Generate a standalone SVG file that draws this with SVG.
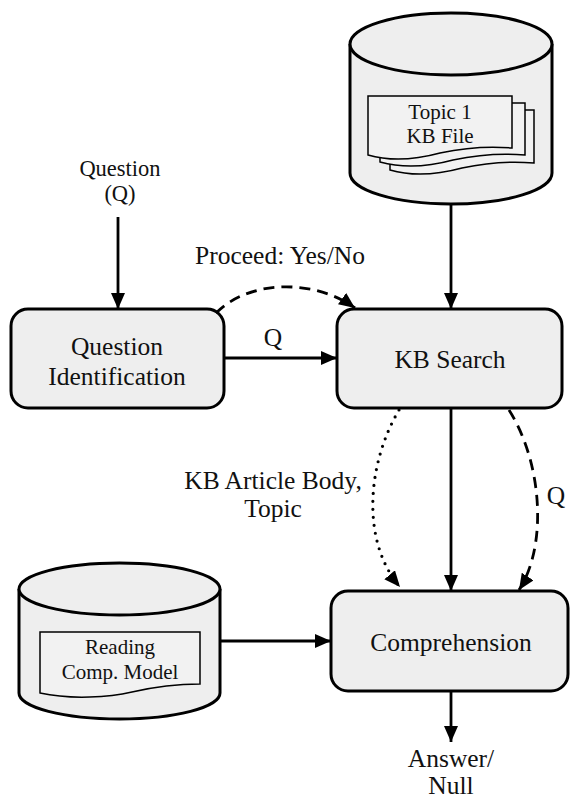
<svg xmlns="http://www.w3.org/2000/svg" width="571" height="800" viewBox="0 0 571 800">
<style>
  .box{fill:#eeeeee;stroke:#000;stroke-width:3}
  .cyl{fill:#eeeeee;stroke:#000;stroke-width:3}
  .doc{fill:#f2f2f2;stroke:#000;stroke-width:1.5}
  .t{font-family:"Liberation Serif","Times New Roman",serif;font-size:25.5px;fill:#111;text-anchor:middle}
  .ts{font-family:"Liberation Serif","Times New Roman",serif;font-size:21px;fill:#111;text-anchor:middle}
  .tq{font-family:"Liberation Serif","Times New Roman",serif;font-size:22.5px;fill:#111;text-anchor:middle}
  .c{fill:none;stroke:#000;stroke-width:2.8}
  .dash{stroke-dasharray:11 7}
  .dot{stroke-dasharray:0 8;stroke-linecap:round;stroke-width:3.2}
</style>
<defs>
  <marker id="ah" markerUnits="userSpaceOnUse" markerWidth="18" markerHeight="14" refX="16" refY="7" orient="auto">
    <path d="M0,0 L16,7 L0,14 Z" fill="#000"/>
  </marker>
</defs>

<g id="kb-db">
  <path class="cyl" d="M350,44 V173 A101,31 0 0 0 552,173 V44"/>
  <ellipse class="cyl" cx="451" cy="44" rx="101" ry="31"/>
  <path class="doc" d="M390,110 H534 V163 C512,161 490,162 462,168 C440,174 414,177 390,170 Z"/>
  <path class="doc" d="M380,103 H525 V155 C503,153 481,154 453,160 C431,166 405,169 380,162 Z"/>
  <path class="doc" d="M368,96 H512 V148 C490,146 468,147 440,153 C418,159 392,162 368,155 Z"/>
  <text class="ts" x="440" y="119" font-size="20.5">Topic 1</text>
  <text class="ts" x="440" y="143" font-size="20.5">KB File</text>
</g>

<g id="rc-db">
  <path class="cyl" d="M19,589 V693 A100.5,26 0 0 0 220,693 V589"/>
  <ellipse class="cyl" cx="119.5" cy="589" rx="100.5" ry="26"/>
  <path class="doc" d="M40,632 H200 V684 C180,684 158,686 132,692 C110,697 72,700 40,693 Z"/>
  <text class="ts" x="120" y="654">Reading</text>
  <text class="ts" x="120" y="679">Comp. Model</text>
</g>

<g id="question-input">
  <text class="tq" x="120" y="176">Question</text>
  <text class="tq" x="120" y="201">(Q)</text>
</g>

<g id="question-identification">
  <rect class="box" x="11" y="309" width="213" height="99" rx="17"/>
  <text class="t" x="117" y="355">Question</text>
  <text class="t" x="117" y="385">Identification</text>
</g>

<g id="kb-search">
  <rect class="box" x="337" y="309" width="225" height="99" rx="17"/>
  <text class="t" x="450" y="368">KB Search</text>
</g>

<g id="comprehension">
  <rect class="box" x="331" y="591" width="237" height="100" rx="17"/>
  <text class="t" x="451" y="651">Comprehension</text>
</g>

<g id="answer-output">
  <text class="t" x="451" y="767">Answer/</text>
  <text class="t" x="451" y="794">Null</text>
</g>

<g id="connectors">
  <line class="c" x1="118" y1="217" x2="118" y2="309" marker-end="url(#ah)"/>
  <line class="c" x1="451" y1="204" x2="451" y2="309" marker-end="url(#ah)"/>
  <line class="c" x1="224" y1="358" x2="337" y2="358" marker-end="url(#ah)"/>
  <line class="c" x1="451" y1="408" x2="451" y2="591" marker-end="url(#ah)"/>
  <line class="c" x1="220" y1="641" x2="331" y2="641" marker-end="url(#ah)"/>
  <line class="c" x1="451" y1="691" x2="451" y2="742" marker-end="url(#ah)"/>
  <path class="c dash" d="M216,313 C250,279 315,279 355,308" marker-end="url(#ah)"/>
  <path class="c dot" d="M399,410 C368,462 360,540 400,587" marker-end="url(#ah)"/>
  <path class="c dash" d="M509,410 C542,462 548,545 519,590" marker-end="url(#ah)"/>
  <text class="t" x="280" y="264">Proceed: Yes/No</text>
  <text class="t" x="273" y="346">Q</text>
  <text class="t" x="273" y="489">KB Article Body,</text>
  <text class="t" x="273" y="517">Topic</text>
  <text class="t" x="556" y="504">Q</text>
</g>
</svg>
